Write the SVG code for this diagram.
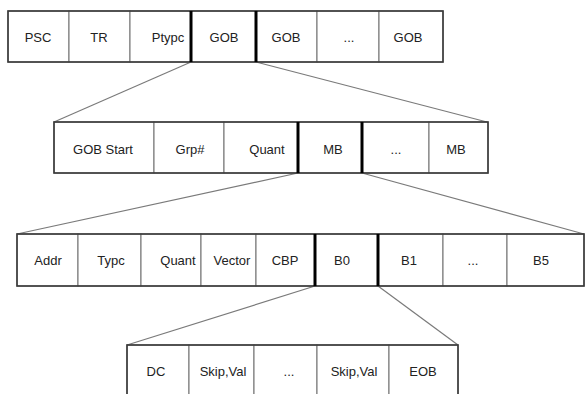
<svg xmlns="http://www.w3.org/2000/svg" width="585" height="394" viewBox="0 0 585 394">
<style>
.cell{fill:#fff;stroke:#6e6e6e;stroke-width:1}
.row{fill:none;stroke:#3a3a3a;stroke-width:1.6}
.thick{stroke:#000;stroke-width:3}
.conn line{stroke:#7a7a7a;stroke-width:1.2}
text{font-family:"Liberation Sans",Arial,sans-serif;font-size:13px;fill:#222;text-anchor:middle}
</style>
<rect width="585" height="394" fill="#fff"/>
<g id="connectors" class="conn">
<line x1="191" y1="62" x2="54" y2="122"/>
<line x1="256" y1="62" x2="487" y2="122"/>
<line x1="298" y1="173" x2="17" y2="234"/>
<line x1="362" y1="173" x2="584" y2="234"/>
<line x1="315" y1="286" x2="127" y2="345"/>
<line x1="378" y1="286" x2="458" y2="345"/>
</g>
<g id="row1">
<g id="psc"><rect class="cell" x="8" y="11" width="61" height="51"/><text x="38" y="41.5">PSC</text></g>
<g id="tr"><rect class="cell" x="69" y="11" width="61" height="51"/><text x="99" y="41.5">TR</text></g>
<g id="ptypc"><rect class="cell" x="130" y="11" width="61" height="51"/><text x="168" y="41.5">Ptypc</text></g>
<g id="gob1"><rect class="cell" x="191" y="11" width="65" height="51"/><text x="224" y="41.5">GOB</text></g>
<g id="gob2"><rect class="cell" x="256" y="11" width="61" height="51"/><text x="286" y="41.5">GOB</text></g>
<g id="gobdots"><rect class="cell" x="317" y="11" width="62" height="51"/><text x="349" y="41.5">...</text></g>
<g id="gobn"><rect class="cell" x="379" y="11" width="64" height="51"/><text x="408" y="41.5">GOB</text></g>
<rect class="row" x="8" y="11" width="435" height="51"/>
<line class="thick" x1="191" y1="11" x2="191" y2="62"/>
<line class="thick" x1="256" y1="11" x2="256" y2="62"/>
</g>
<g id="row2">
<g id="gobstart"><rect class="cell" x="54" y="122" width="100" height="51"/><text x="103" y="153.5">GOB Start</text></g>
<g id="grp"><rect class="cell" x="154" y="122" width="70" height="51"/><text x="190" y="153.5">Grp#</text></g>
<g id="quant1"><rect class="cell" x="224" y="122" width="74" height="51"/><text x="267" y="153.5">Quant</text></g>
<g id="mb1"><rect class="cell" x="298" y="122" width="64" height="51"/><text x="333" y="153.5">MB</text></g>
<g id="mbdots"><rect class="cell" x="362" y="122" width="67" height="51"/><text x="396" y="153.5">...</text></g>
<g id="mbn"><rect class="cell" x="429" y="122" width="59" height="51"/><text x="456" y="153.5">MB</text></g>
<rect class="row" x="54" y="122" width="434" height="51"/>
<line class="thick" x1="298" y1="122" x2="298" y2="173"/>
<line class="thick" x1="362" y1="122" x2="362" y2="173"/>
</g>
<g id="row3">
<g id="addr"><rect class="cell" x="17" y="234" width="61" height="52"/><text x="48" y="265">Addr</text></g>
<g id="typc"><rect class="cell" x="78" y="234" width="63" height="52"/><text x="111" y="265">Typc</text></g>
<g id="quant2"><rect class="cell" x="141" y="234" width="60" height="52"/><text x="178" y="265">Quant</text></g>
<g id="vector"><rect class="cell" x="201" y="234" width="55" height="52"/><text x="232" y="265">Vector</text></g>
<g id="cbp"><rect class="cell" x="256" y="234" width="59" height="52"/><text x="285" y="265">CBP</text></g>
<g id="b0"><rect class="cell" x="315" y="234" width="63" height="52"/><text x="342" y="265">B0</text></g>
<g id="b1"><rect class="cell" x="378" y="234" width="65" height="52"/><text x="409" y="265">B1</text></g>
<g id="bdots"><rect class="cell" x="443" y="234" width="64" height="52"/><text x="473" y="265">...</text></g>
<g id="b5"><rect class="cell" x="507" y="234" width="77" height="52"/><text x="541" y="265">B5</text></g>
<rect class="row" x="17" y="234" width="567" height="52"/>
<line class="thick" x1="315" y1="234" x2="315" y2="286"/>
<line class="thick" x1="378" y1="234" x2="378" y2="286"/>
</g>
<g id="row4">
<g id="dc"><rect class="cell" x="127" y="345" width="62" height="55"/><text x="156" y="376">DC</text></g>
<g id="skipval1"><rect class="cell" x="189" y="345" width="65" height="55"/><text x="223" y="376">Skip,Val</text></g>
<g id="skipdots"><rect class="cell" x="254" y="345" width="63" height="55"/><text x="289" y="376">...</text></g>
<g id="skipval2"><rect class="cell" x="317" y="345" width="72" height="55"/><text x="354" y="376">Skip,Val</text></g>
<g id="eob"><rect class="cell" x="389" y="345" width="69" height="55"/><text x="423" y="376">EOB</text></g>
<rect class="row" x="127" y="345" width="331" height="55"/>
</g>
</svg>
